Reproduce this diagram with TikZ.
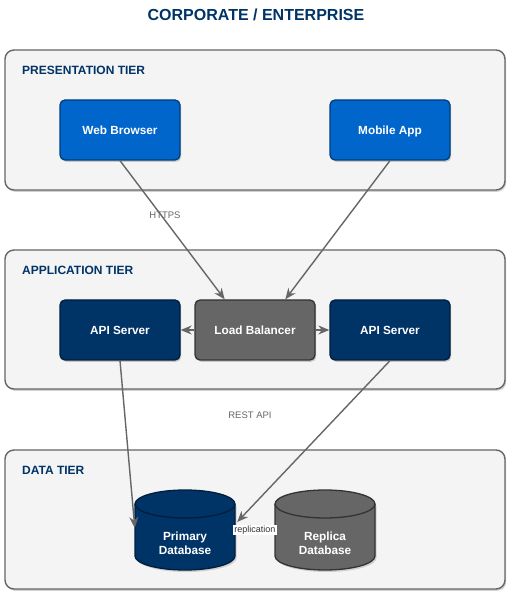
\documentclass[tikz,border=0pt]{standalone}
\usepackage{fontspec}
\setmainfont{Liberation Sans}
\usetikzlibrary{arrows.meta,shadows,calc}
\definecolor{navy}{HTML}{003366}
\definecolor{blu}{HTML}{0066CC}
\definecolor{blub}{HTML}{003D7A}
\definecolor{navyb}{HTML}{001F3F}
\definecolor{gry}{HTML}{666666}
\definecolor{gryb}{HTML}{333333}
\definecolor{tierfill}{HTML}{F4F4F4}
\tikzset{
  x=1pt, y=1pt,
  shad/.style={drop shadow={shadow xshift=1.2pt, shadow yshift=-1.8pt, opacity=0.18, fill=black}},
  tier/.style={draw=gry, line width=1.4pt, fill=tierfill, rounded corners=9pt, shad},
  tierlabel/.style={anchor=west, text=navy, font=\bfseries\fontsize{12}{14}\selectfont, inner sep=0pt},
  boxbase/.style={rounded corners=5pt, line width=1.3pt, minimum width=120pt, minimum height=60pt, text=white, font=\bfseries\fontsize{11.8}{13}\selectfont, shad, inner sep=0pt, text height=8.6pt, text depth=0pt},
  client/.style={boxbase, fill=blu, draw=blub},
  server/.style={boxbase, fill=navy, draw=navyb},
  balancer/.style={boxbase, fill=gry, draw=gryb},
  link/.style={draw=gry, line width=1.4pt, -{Stealth[length=11pt,width=9pt,inset=3.5pt]}},
  edgelabel/.style={text=gry, font=\fontsize{9.5}{11}\selectfont, inner sep=1pt},
  dbtext/.style={text=white, font=\bfseries\fontsize{11.8}{14}\selectfont, align=center, inner sep=0pt},
}
\begin{document}
\begin{tikzpicture}
\useasboundingbox (0,0) rectangle (514,600);
% title
\node[text=navy, font=\bfseries\fontsize{16}{18}\selectfont] (title) at (256,585) {CORPORATE / ENTERPRISE};
% tiers
\draw[tier] (5,410) rectangle (505,550);
\node[tierlabel] (lp) at (22,530) {PRESENTATION TIER};
\draw[tier] (5,211) rectangle (505,350);
\node[tierlabel] (la) at (22,330) {APPLICATION TIER};
\draw[tier] (5,11) rectangle (505,150);
\node[tierlabel] (ld) at (22,130) {DATA TIER};
% nodes
\node[client] (wb) at (120,470) {Web Browser};
\node[client] (ma) at (390,470) {Mobile App};
\node[server] (apil) at (120,270) {API Server};
\node[balancer] (lb) at (255,270) {Load Balancer};
\node[server] (apir) at (390,270) {API Server};
% cylinders
\foreach \cx/\nm/\fc/\bc in {185/pdb/navy/navyb, 325/rdb/gry/gryb}{
  \node[minimum width=100pt, minimum height=80pt, inner sep=0pt] (\nm) at (\cx,70) {};
  \fill[black, opacity=0.15] ($(\cx,96)+(-48.5pt,-2pt)$) -- ++(0,-52pt) arc[start angle=180, end angle=360, x radius=50pt, y radius=14pt] -- ++(0,52pt) -- cycle;
  \draw[fill=\fc, draw=\bc, line width=1.3pt] ($(\cx,96)+(-50pt,0)$) -- ++(0,-52pt) arc[start angle=180, end angle=360, x radius=50pt, y radius=14pt] -- ++(0,52pt) arc[start angle=0, end angle=180, x radius=50pt, y radius=14pt] -- cycle;
  \draw[draw=\bc, line width=1.3pt] ($(\cx,96)+(-50pt,0)$) arc[start angle=180, end angle=360, x radius=50pt, y radius=14pt];
}
\node[dbtext] (pdbt) at (185,57) {Primary\\Database};
\node[dbtext] (rdbt) at (325,57) {Replica\\Database};
% connectors
\coordinate (lbn1) at ($(lb.north west)!0.25!(lb.north east)$);
\coordinate (lbn2) at ($(lb.north west)!0.75!(lb.north east)$);
\coordinate (pdbl) at ($(pdb.west)+(0,2pt)$);
\coordinate (pdbr) at ($(pdb.east)+(2pt,8pt)$);
\draw[link] (wb.south) -- (lbn1);
\draw[link] (ma.south) -- (lbn2);
\draw[link] (lb.west) -- (apil.east);
\draw[link] (lb.east) -- (apir.west);
\draw[link] (apil.south) -- (pdbl);
\draw[link] (apir.south) -- (pdbr);
% labels
\node[edgelabel] (https) at (165,385) {HTTPS};
\node[edgelabel] (rest) at (250,185) {REST API};
\node[edgelabel, fill=white, text=gryb, font=\fontsize{9}{10}\selectfont] (repl) at (255,70) {replication};
\end{tikzpicture}
\end{document}
